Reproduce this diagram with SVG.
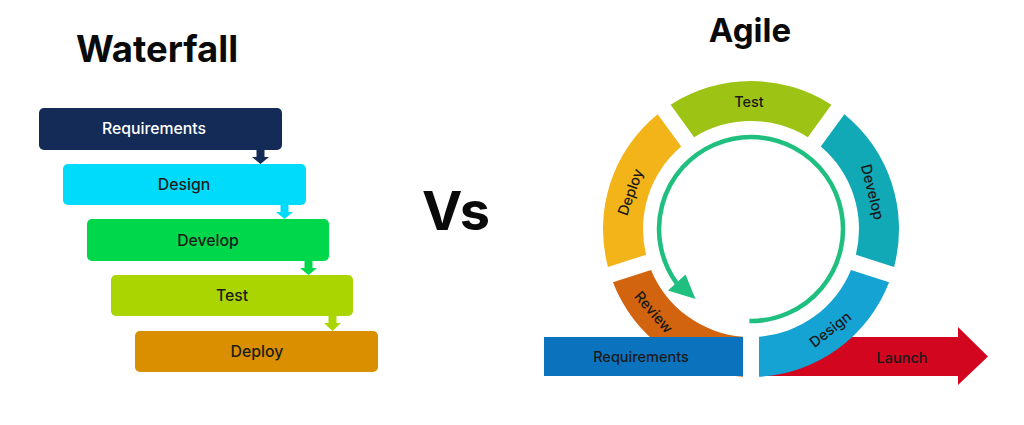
<svg xmlns="http://www.w3.org/2000/svg" width="1024" height="425" viewBox="0 0 1024 425">
  <style>
    text { font-family: Inter, "Liberation Sans", "DejaVu Sans", sans-serif; }
    .title { font-weight: 700; fill: #0a0a0a; text-anchor: middle; }
    .wf { font-size: 15.8px; font-weight: 500; text-anchor: middle; fill: #1c1c1c; }
    .ag { font-size: 14.5px; font-weight: 500; text-anchor: middle; fill: #1a1a1a; dominant-baseline: central; }
    .box { stroke: none; }
  </style>

  <rect width="1024" height="425" fill="#ffffff"/>

  <!-- Titles -->
  <text class="title" x="157" y="62" font-size="36.5">Waterfall</text>
  <text class="title" x="750" y="42" font-size="33">Agile</text>
  <text class="title" x="456" y="230" font-size="54">Vs</text>

  <!-- Waterfall nodes -->
  <g id="wf-requirements">
    <rect class="box" x="39" y="108" width="243" height="42" rx="5" fill="#132b56"/>
    <text class="wf" x="154" y="134" style="fill:#ffffff">Requirements</text>
  </g>
  <g id="wf-design">
    <rect class="box" x="63" y="164" width="243" height="41" rx="5" fill="#00dbfc"/>
    <text class="wf" x="184" y="190">Design</text>
  </g>
  <g id="wf-develop">
    <rect class="box" x="87" y="219" width="242" height="42" rx="5" fill="#00d74b"/>
    <text class="wf" x="208" y="245.5">Develop</text>
  </g>
  <g id="wf-test">
    <rect class="box" x="111" y="275" width="242" height="41" rx="5" fill="#abd500"/>
    <text class="wf" x="232" y="301">Test</text>
  </g>
  <g id="wf-deploy">
    <rect class="box" x="135" y="331" width="243" height="41" rx="5" fill="#d98f00"/>
    <text class="wf" x="257" y="357">Deploy</text>
  </g>

  <!-- Waterfall connectors -->
  <g id="wf-connectors">
    <path d="M256.5,150 H264.5 V157 H269 L260.5,164 L252,157 H256.5 Z" fill="#132b56"/>
    <path d="M280.5,205 H288.5 V212 H293 L284.5,219 L276,212 H280.5 Z" fill="#00dbfc"/>
    <path d="M304.5,261 H312.5 V268 H317 L308.5,275 L300,268 H304.5 Z" fill="#00d74b"/>
    <path d="M328.5,316 H336.5 V323 H341 L332.5,331 L324,323 H328.5 Z" fill="#abd500"/>
  </g>

  <!-- Agile: Launch arrow (behind Design) -->
  <g id="ag-launch">
    <path d="M760,337 H958 V327 L988,356.5 L958,385 V376 H760 Z" fill="#d2061f"/>
    <text class="ag" x="902" y="357">Launch</text>
  </g>

  <!-- Agile ring segments -->
  <g id="ag-test">
    <path d="M670.61,104.74 A148,148 0 0 1 831.39,104.74 L807.84,137.17 A108,108 0 0 0 694.16,137.17 Z" fill="#9dc314"/>
    <text class="ag" x="749" y="101">Test</text>
  </g>
  <g id="ag-develop">
    <path d="M844.33,114.14 A148,148 0 0 1 894.02,267.06 L855.90,254.67 A108,108 0 0 0 820.78,146.57 Z" fill="#11a9b5"/>
    <text class="ag" x="0" y="0" transform="translate(873,192) rotate(76)">Develop</text>
  </g>
  <g id="ag-design">
    <path d="M889.08,282.28 A148,148 0 0 1 759,376.78 L759,336.70 A108,108 0 0 0 850.96,269.89 Z" fill="#14a3d3"/>
    <text class="ag" x="0" y="0" transform="translate(830,329) rotate(-38)">Design</text>
  </g>
  <g id="ag-review">
    <path d="M743,376.78 A148,148 0 0 1 612.92,282.28 L651.04,269.89 A108,108 0 0 0 743,336.70 Z" fill="#d2630f"/>
    <text class="ag" x="0" y="0" transform="translate(654,312) rotate(49)">Review</text>
  </g>
  <g id="ag-deploy">
    <path d="M607.98,267.06 A148,148 0 0 1 657.67,114.14 L681.22,146.57 A108,108 0 0 0 646.10,254.67 Z" fill="#f3b41a"/>
    <text class="ag" x="0" y="0" transform="translate(630,192) rotate(-70)">Deploy</text>
  </g>

  <!-- Agile: Requirements bar -->
  <g id="ag-requirements">
    <rect x="544" y="337" width="199" height="39" fill="#0b72be"/>
    <text class="ag" x="641" y="356.5">Requirements</text>
  </g>

  <!-- Agile connectors: cycle arrow -->
  <g id="ag-connectors">
    <path d="M749.4,321 A92,92 0 1 0 676.6,283.1" fill="none" stroke="#1fbf7f" stroke-width="4.5"/>
    <polygon points="695.5,299 668,290.5 685.5,274.5" fill="#1fbf7f"/>
  </g>
</svg>
